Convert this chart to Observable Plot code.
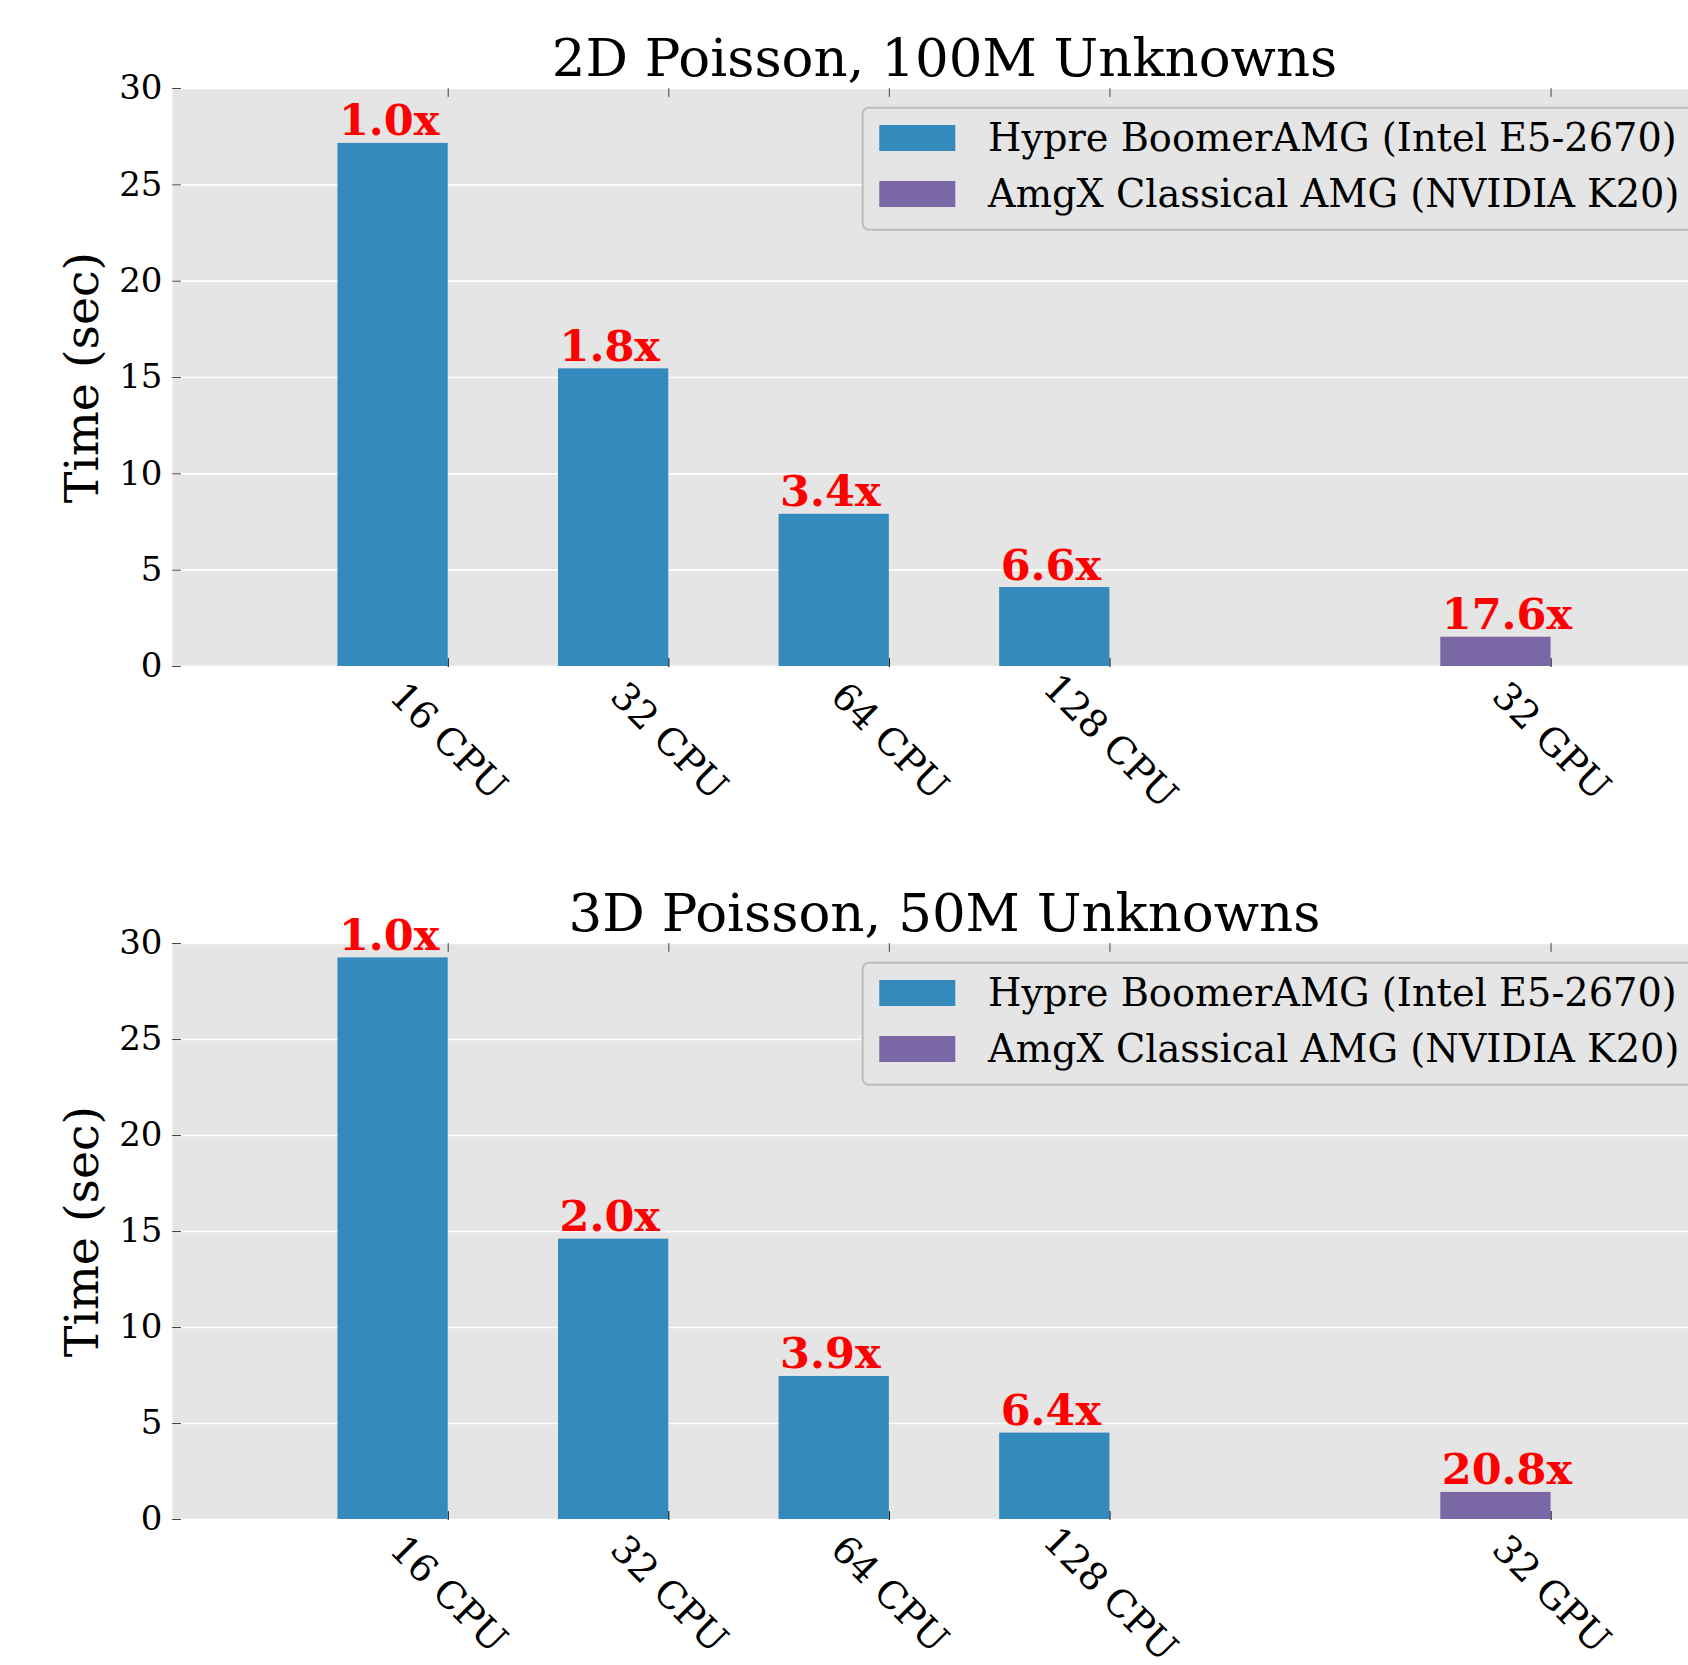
<!DOCTYPE html>
<html>
<head>
<meta charset="utf-8">
<script src="https://cdn.jsdelivr.net/npm/d3@7"></script>
<script src="https://cdn.jsdelivr.net/npm/@observablehq/plot@0.6"></script>
<style>
  html, body { margin: 0; padding: 0; background: white; }
  #wrap { width: 1688px; height: 1665px; overflow: hidden; position: relative; background: white; }
  #wrap svg { display: block; max-width: none; }
</style>
</head>
<body>
<div id="wrap"></div>
<script>
// ---- data ----
const categories = ["16 CPU", "32 CPU", "64 CPU", "128 CPU", "32 GPU"];
const solverOf = ["Hypre", "Hypre", "Hypre", "Hypre", "AmgX"];
const time2D = [27.15, 15.45, 7.9, 4.1, 1.52];
const speedup2D = ["1.0x", "1.8x", "3.4x", "6.6x", "17.6x"];
const time3D = [29.25, 14.6, 7.45, 4.5, 1.41];
const speedup3D = ["1.0x", "2.0x", "3.9x", "6.4x", "20.8x"];
const yTicks = [0, 5, 10, 15, 20, 25, 30];
const solvers = ["Hypre", "AmgX"];
const legendLabels = ["Hypre BoomerAMG (Intel E5-2670)", "AmgX Classical AMG (NVIDIA K20)"];
const solverColors = ["#348ABD", "#7A68A6"];
const titles = ["2D Poisson, 100M Unknowns", "3D Poisson, 50M Unknowns"];
const yLabel = "Time (sec)";

const FONT = "DejaVu Serif";
const colorOf = s => solverColors[solvers.indexOf(s)];
// slot index: GPU group sits after one empty slot
const slotOf = i => i + (solverOf[i] === "AmgX" ? 1 : 0);
const BAR_W = 0.5;

const lineShape = {
  draw(context, l) { context.moveTo(0, 0); context.lineTo(0, -l); }
};

function panel(times, speedups, title, height, marginBottom) {
  const data = categories.map((c, i) => ({
    cat: c, solver: solverOf[i], value: times[i], label: speedups[i],
    x1: slotOf(i), x2: slotOf(i) + BAR_W
  }));
  const tickPos = data.map(d => d.x2);
  const plot = Plot.plot({
    width: 1688,
    height,
    marginLeft: 172,
    marginRight: -28,
    marginTop: 88,
    marginBottom,
    style: { fontFamily: FONT, background: "white", overflow: "visible" },
    x: { domain: [-0.75, 6.25], axis: null },
    y: { domain: [0, 30], axis: null },
    marks: [
      Plot.frame({ fill: "#E5E5E5", stroke: null }),
      Plot.ruleY(yTicks, { stroke: "white", strokeWidth: 1.6 }),
      // y ticks (inside, left)
      Plot.vector(yTicks, { y: d => d, frameAnchor: "left", length: 8, rotate: 90, anchor: "start", shape: lineShape, stroke: "#444", strokeWidth: 1 }),
      // x ticks (top, inside)
      Plot.vector(tickPos, { x: d => d, frameAnchor: "top", length: 8, rotate: 180, anchor: "start", shape: lineShape, stroke: "#444", strokeWidth: 1 }),
      // x ticks (bottom, inside)
      Plot.vector(tickPos, { x: d => d, frameAnchor: "bottom", length: 8, rotate: 0, anchor: "start", shape: lineShape, stroke: "#111", strokeWidth: 1.2 }),
      Plot.rectY(data, { x1: "x1", x2: "x2", y: "value", fill: d => colorOf(d.solver) }),
      // speedup labels, left-aligned on the bar's left edge
      Plot.text(data, {
        x: "x1", y: "value", text: "label",
        dx: 1, dy: -8, lineAnchor: "bottom", textAnchor: "start",
        fill: "red", fontWeight: "bold", fontSize: 43, fontFamily: FONT
      }),
      // x tick labels (rotated)
      Plot.text(data, {
        x: "x2", frameAnchor: "bottom", dy: 75, rotate: 45, text: "cat",
        textAnchor: "middle", lineAnchor: "middle", fontSize: 38, fill: "black"
      }),
      // y tick labels
      Plot.text(yTicks, {
        y: d => d, frameAnchor: "left", dx: -10, text: d => String(d),
        textAnchor: "end", lineAnchor: "middle", fontSize: 34, fill: "black"
      }),
      // y axis label
      Plot.text([yLabel], {
        frameAnchor: "left", dx: -90, rotate: -90, text: d => d,
        textAnchor: "middle", lineAnchor: "middle", fontSize: 47.5, fill: "black"
      }),
      // title
      Plot.text([title], {
        frameAnchor: "top", dy: -13, text: d => d, lineAnchor: "bottom",
        textAnchor: "middle", fontSize: 53, fill: "black"
      })
    ]
  });

  // legend (upper right, inside the axes)
  const svg = d3.select(plot);
  const g = svg.append("g").attr("font-family", FONT);
  const bx = 862.7, by = 107.7, bw = 835, bh = 122;
  g.append("rect").attr("x", bx).attr("y", by).attr("width", bw).attr("height", bh)
    .attr("rx", 6).attr("ry", 6)
    .attr("fill", "#E5E5E5").attr("stroke", "#BDBDBD").attr("stroke-width", 2);
  legendLabels.forEach((lab, i) => {
    const cy = 138 + i * 56;
    g.append("rect").attr("x", 879.3).attr("y", cy - 13).attr("width", 76).attr("height", 26)
      .attr("fill", solverColors[i]);
    g.append("text").attr("x", 988).attr("y", cy).attr("dy", "0.35em")
      .attr("text-anchor", "start")
      .attr("font-size", 38.3).attr("fill", "black").text(lab);
  });
  return plot;
}

const wrap = document.getElementById("wrap");
wrap.appendChild(panel(time2D, speedup2D, titles[0], 855, 189));
wrap.appendChild(panel(time3D, speedup3D, titles[1], 810, 146));
</script>
</body>
</html>
